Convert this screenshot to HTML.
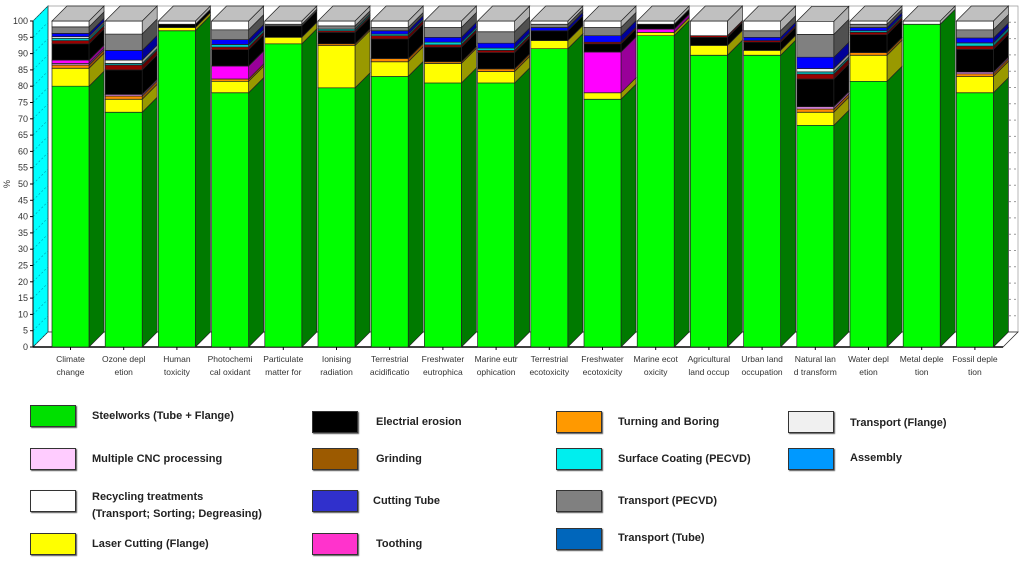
<!DOCTYPE html>
<html><head><meta charset="utf-8">
<style>
body{margin:0;width:1024px;height:561px;background:#fff;overflow:hidden;font-family:"Liberation Sans",sans-serif;}
#chart{position:absolute;left:0;top:0;}
.leg{position:absolute;font-size:11px;font-weight:bold;color:#222;font-family:"Liberation Sans Narrow","Liberation Sans",sans-serif;}
.sw{position:absolute;width:44px;height:20px;border:1px solid #333;box-shadow:1px 1px 1px #555;}
</style></head>
<body>
<svg id="chart" width="1024" height="395"></svg>
<div id="legend"></div>
<script>
const categories=[["Climate","change"],["Ozone depl","etion"],["Human","toxicity"],["Photochemi","cal oxidant"],["Particulate","matter for"],["Ionising","radiation"],["Terrestrial","acidificatio"],["Freshwater","eutrophica"],["Marine eutr","ophication"],["Terrestrial","ecotoxicity"],["Freshwater","ecotoxicity"],["Marine ecot","oxicity"],["Agricultural","land occup"],["Urban land","occupation"],["Natural lan","d transform"],["Water depl","etion"],["Metal deple","tion"],["Fossil deple","tion"]];
const steelworks=[80,72,97,78,93,79.5,83,81,81,91.5,76,95.5,89.5,89.5,68,81.5,99,78];
const laserCutting=[5.5,4,1,3.5,2,13,4.5,6,3.5,2.5,2,1,3,1.5,4,8,0,5];
const turningBoring=[1,1,0,0.7,0,0.5,1,0.5,0.8,0,0,0,0,0,1,0.8,0,0.8];
const cncProcessing=[0.5,0.5,0,0,0,0,0,0,0,0,0,0,0,0,0.7,0,0,0.5];
const toothing=[1,0,0,4,0,0,0,0,0,0,12.5,1,0,0,0,0,0,0];
const electrialErosion=[5,7.5,1,5,3.5,3.5,6,4.5,5,3,2.5,1.5,2.5,2.5,8.5,5.5,0,7];
const grinding=[1,1.5,0,0.8,0,0.5,1,0.7,0.7,0,0.5,0,0.5,0.5,1.5,0.7,0,1];
const surfaceCoating=[0.7,0.5,0,0.8,0,0.5,0.5,0.8,0.7,0,0,0,0,0,0.7,0.5,0,1];
const transportFlange=[0.5,1,0,0,0,0,0,0,0,0,0,0,0,0,1,0,0,0];
const cuttingTube=[1,3,0,1.5,0,0,1,1.5,1.5,1,2,0,0,1,3.5,1,0,1.5];
const transportPECVD=[2,5,0,3,0.5,1,1,3,3.5,1,2.5,0,0,2,7,1,0,2.5];
const recycling=[1.8,4,1,2.7,1,1.5,2,2,3.3,1,2,1,4.5,3,4,1,1,2.7];
const yTicks=[0,5,10,15,20,25,30,35,40,45,50,55,60,65,70,75,80,85,90,95,100];

const series=[
 {name:"steelworks",vals:steelworks,c:"#00ff00",s:"#007a00"},
 {name:"laser-cutting",vals:laserCutting,c:"#ffff00",s:"#999900"},
 {name:"turning-boring",vals:turningBoring,c:"#ff8c00",s:"#995400"},
 {name:"cnc-processing",vals:cncProcessing,c:"#ff99ff",s:"#aa55aa"},
 {name:"toothing",vals:toothing,c:"#ff00ff",s:"#990099"},
 {name:"electrial-erosion",vals:electrialErosion,c:"#000000",s:"#000000"},
 {name:"grinding",vals:grinding,c:"#990000",s:"#600000"},
 {name:"surface-coating",vals:surfaceCoating,c:"#00cccc",s:"#007777"},
 {name:"transport-flange",vals:transportFlange,c:"#f0f0f0",s:"#999999"},
 {name:"cutting-tube",vals:cuttingTube,c:"#0000ff",s:"#000099"},
 {name:"transport-pecvd",vals:transportPECVD,c:"#808080",s:"#505050"},
 {name:"recycling",vals:recycling,c:"#ffffff",s:"#b0b0b0"}
];
const NS="http://www.w3.org/2000/svg";
const svg=document.getElementById('chart');
const Y0=347,PX=3.26,DX=15,DY=-15,BX=52,STEP=53.2,BW=37;
function yS(v){return Y0-v*PX;}
function xS(i){return BX+i*STEP;}
function mk(t,a,p){const e=document.createElementNS(NS,t);for(const k in a)e.setAttribute(k,a[k]);(p||svg).appendChild(e);return e;}
function poly(pts,fill,p){return mk('polygon',{points:pts.map(q=>q.join(',')).join(' '),fill:fill,stroke:'#222','stroke-width':0.7},p);}
// walls
const wall=mk('g',{});


poly([[33+DX,yS(100)+DY],[1018,yS(100)+DY],[1018,Y0+DY],[33+DX,Y0+DY]],'#fff',wall).setAttribute('stroke','#999');
poly([[33,Y0],[33,yS(100)],[33+DX,yS(100)+DY],[33+DX,Y0+DY]],'#00ffff',wall);
poly([[33,Y0],[1003,Y0],[1018,Y0+DY],[33+DX,Y0+DY]],'#fff',wall);
for(const t of yTicks){if(t>0&&t<100)mk('line',{x1:1004,x2:1016,y1:yS(t)+DY,y2:yS(t)+DY,stroke:'#999','stroke-dasharray':'2,3'},wall);
 mk('line',{x1:33,x2:33+DX,y1:yS(t),y2:yS(t)+DY,stroke:'#0099aa','stroke-dasharray':'2,2','stroke-width':0.6},wall);}
mk('line',{x1:33,x2:1003,y1:Y0,y2:Y0,stroke:'#000','stroke-width':1.5},wall);
mk('line',{x1:33,x2:33,y1:Y0,y2:yS(100),stroke:'#000'},wall);
// y axis
const ya=mk('g',{'font-size':9,fill:'#333','text-anchor':'end'});


for(const t of yTicks){const tx=mk('text',{x:28,y:yS(t)+3},ya);tx.textContent=t;mk('line',{x1:30,x2:33,y1:yS(t),y2:yS(t),stroke:'#000'},ya);}
const yt=mk('text',{x:10,y:184,'font-size':9,fill:'#333',transform:'rotate(-90 10 184)','text-anchor':'middle'});


yt.textContent='%';
// bars
categories.forEach((cat,i)=>{
 const g=mk('g',{});
 
 
 const x=xS(i);let cum=0,top=null;
 series.forEach(s=>{const v=s.vals[i];if(v<=0)return;
  const y1=yS(cum),y2=yS(cum+v);cum+=v;top=s;
  const seg=mk('g',{},g);
  
  
  poly([[x+BW,y1],[x+BW+DX,y1+DY],[x+BW+DX,y2+DY],[x+BW,y2]],s.s,seg);
  poly([[x,y1],[x+BW,y1],[x+BW,y2],[x,y2]],s.c,seg);
 });
 if(top){const yt2=yS(cum);const tp=poly([[x,yt2],[x+BW,yt2],[x+BW+DX,yt2+DY],[x+DX,yt2+DY]],'#c0c0c0',g);
  }
 const lab=mk('text',{'font-size':8.5,fill:'#333','text-anchor':'middle'});
 
 
 cat.forEach((l,k)=>{const ts=mk('tspan',{x:x+BW/2,y:362+k*13},lab);ts.textContent=l;});
 mk('line',{x1:x+BW/2,x2:x+BW/2,y1:Y0,y2:Y0+3,stroke:'#000'});
});
// legend
const legend=[
 ["Steelworks (Tube + Flange)","#00e000",30,405,92,415],
 ["Multiple CNC processing","#ffccff",30,448,92,458],
 ["Recycling treatments<br>(Transport; Sorting; Degreasing)","#ffffff",30,490,92,496],
 ["Laser Cutting (Flange)","#ffff00",30,533,92,543],
 ["Electrial erosion","#000000",312,411,376,421],
 ["Grinding","#9c5a00",312,448,376,458],
 ["Cutting Tube","#3030cc",312,490,373,500],
 ["Toothing","#ff33cc",312,533,376,543],
 ["Turning and Boring","#ff9900",556,411,618,421],
 ["Surface Coating  (PECVD)","#00eeee",556,448,618,458],
 ["Transport (PECVD)","#808080",556,490,618,500],
 ["Transport (Tube)","#0066bb",556,528,618,537],
 ["Transport (Flange)","#f0f0f0",788,411,850,422],
 ["Assembly","#0099ff",788,448,850,457]
];
const L=document.getElementById('legend');
legend.forEach(e=>{
 const sw=document.createElement('div');sw.className='sw';sw.style.left=e[2]+'px';sw.style.top=e[3]+'px';sw.style.background=e[1];
 
 
 L.appendChild(sw);
 const t=document.createElement('div');t.className='leg';t.style.left=e[4]+'px';t.style.top=(e[5]-7)+'px';t.innerHTML=e[0];t.style.lineHeight='17px';
 
 
 L.appendChild(t);
});
</script>
</body></html>
